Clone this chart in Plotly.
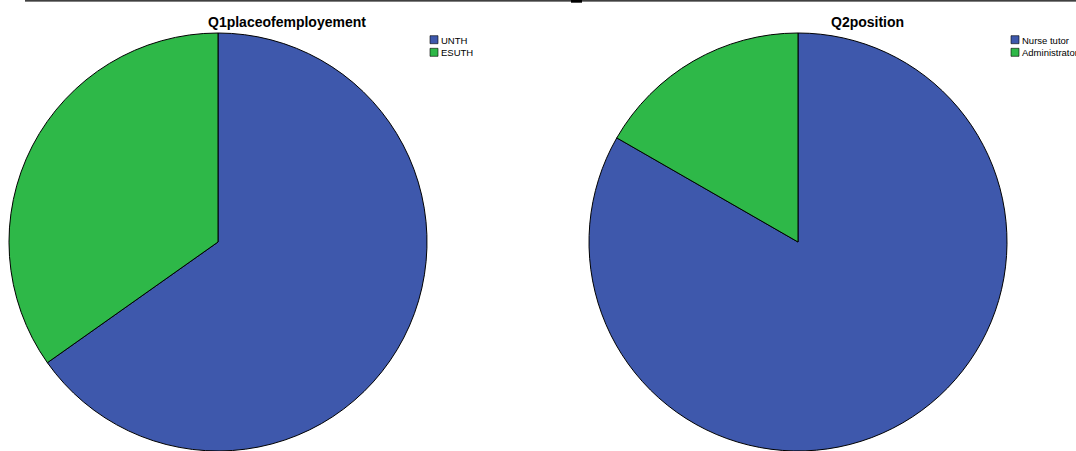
import plotly.graph_objects as go

W, H = 1076, 451

# Data
q1_labels = ["UNTH", "ESUTH"]
q1_values = [65.2, 34.8]
q2_labels = ["Nurse tutor", "Administrator"]
q2_values = [83.3, 16.7]
colors = ["#3E58AC", "#2EB848"]
titles = ["Q1placeofemployement", "Q2position"]


def px_x(x):
    return x / W


def px_y(y):
    return 1 - y / H


fig = go.Figure()

pie_boxes = [(9, 427), (588, 1008)]
for (labels, values), (x0, x1) in zip([(q1_labels, q1_values), (q2_labels, q2_values)], pie_boxes):
    fig.add_trace(go.Pie(
        labels=labels,
        values=values,
        sort=False,
        direction="clockwise",
        rotation=0,
        textinfo="none",
        marker=dict(colors=colors, line=dict(color="#000000", width=1)),
        domain=dict(x=[px_x(x0), px_x(x1)], y=[px_y(451), px_y(33)]),
        showlegend=False,
        hoverinfo="label+percent",
    ))

annotations = []
shapes = []

# Titles
for t, cx in zip(titles, [287, 867]):
    annotations.append(dict(
        text="<b>" + t + "</b>", x=px_x(cx), y=px_y(22), xref="paper", yref="paper",
        xanchor="center", yanchor="middle", showarrow=False,
        font=dict(family="Arial, Liberation Sans, sans-serif", size=14, color="#000000"),
    ))

# Legends (manual, SPSS style)
for labels, bx in [(q1_labels, 430), (q2_labels, 1011)]:
    for i, lab in enumerate(labels):
        top = 35.7 + 12.6 * i
        shapes.append(dict(
            type="rect", xref="paper", yref="paper",
            x0=px_x(bx), x1=px_x(bx + 8), y0=px_y(top), y1=px_y(top + 8),
            fillcolor=colors[i], line=dict(color="#000000", width=0.6),
        ))
        annotations.append(dict(
            text=lab, x=px_x(bx + 9), y=px_y(top + 4.3), xref="paper", yref="paper",
            xanchor="left", yanchor="middle", showarrow=False,
            font=dict(family="Arial, Liberation Sans, sans-serif", size=9.5, color="#000000"),
        ))

# Top border lines
shapes.append(dict(type="line", xref="paper", yref="paper",
                   x0=px_x(25), x1=px_x(1076), y0=px_y(0.8), y1=px_y(0.8),
                   line=dict(color="#000000", width=1.2)))
shapes.append(dict(type="rect", xref="paper", yref="paper",
                   x0=px_x(571), x1=px_x(582), y0=px_y(0), y1=px_y(2.7),
                   fillcolor="#000000", line=dict(width=0)))

fig.update_layout(
    width=W, height=H,
    margin=dict(l=0, r=0, t=0, b=0),
    paper_bgcolor="#FFFFFF",
    plot_bgcolor="#FFFFFF",
    annotations=annotations,
    shapes=shapes,
    showlegend=False,
)

fig.write_html("out.html")
